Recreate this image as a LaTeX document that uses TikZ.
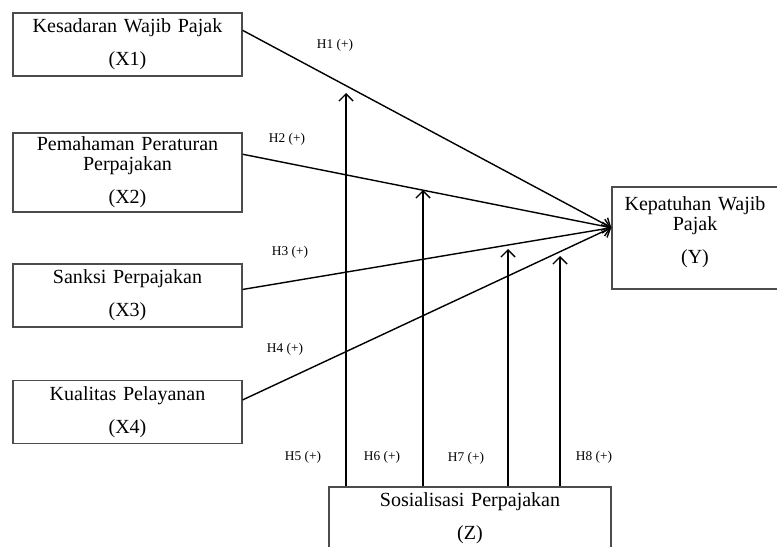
\documentclass[tikz,border=0pt]{standalone}
\usepackage{fontspec}
\setmainfont{Liberation Serif}
\usetikzlibrary{arrows.meta}

\tikzset{
    var/.style={draw=black!70, line width=0.8pt, inner sep=0pt, align=center,
        font=\fontsize{11.4}{11.4}\selectfont},
    hyp/.style={font=\fontsize{7.6}{9}\selectfont},
    link/.style={line width=0.8pt, -{Straight Barb[length=4pt,width=8pt]}}
}

\begin{document}
\begin{tikzpicture}[x=0.02cm, y=-0.02cm]
    \useasboundingbox (0,0) rectangle (777,547);
    \clip (0,0) rectangle (777,547);

    \node[var, text width=4.58cm, minimum height=1.26cm] (1) at (127.5,44.5) {Kesadaran Wajib Pajak\\[7.4pt](X1)};
    \node[var, text width=4.58cm, minimum height=1.58cm] (2) at (127.5,172.5) {Pemahaman Peraturan\\Perpajakan\\[7.4pt](X2)};
    \node[var, text width=4.58cm, minimum height=1.26cm] (3) at (127.5,295.5) {Sanksi Perpajakan\\[7.4pt](X3)};
    \node[var, text width=4.58cm, minimum height=1.26cm] (4) at (127.5,412) {Kualitas Pelayanan\\[7.4pt](X4)};
    \node[var, text width=3.32cm, minimum height=2.04cm] (5) at (695,238) {Kepatuhan Wajib\\Pajak\\[7.4pt](Y)\\[-2.4pt]\mbox{}};
    \node[var, text width=5.64cm, minimum height=1.26cm] (6) at (470,518.5) {Sosialisasi Perpajakan\\[7.4pt](Z)};

    \node[hyp] (7) at (335,45) {H1 (+)};
    \node[hyp] (8) at (287,139) {H2 (+)};
    \node[hyp] (9) at (290,252) {H3 (+)};
    \node[hyp] (10) at (285,349) {H4 (+)};
    \node[hyp] (11) at (303,457) {H5 (+)};
    \node[hyp] (12) at (382,457) {H6 (+)};
    \node[hyp] (13) at (466,458) {H7 (+)};
    \node[hyp] (14) at (594,457) {H8 (+)};

    \coordinate (15) at (346,93);
    \coordinate (16) at (423,190);
    \coordinate (17) at (508,249);
    \coordinate (18) at (560,256);

    \draw[link] (1.7) -- (5.173);
    \draw[link] (2.9) -- (5.173);
    \draw[link] (3.3) -- (5.173);
    \draw[link] (4.6) -- (5.173);

    \draw[link] (15 |- 6.north) -- (15);
    \draw[link] (16 |- 6.north) -- (16);
    \draw[link] (17 |- 6.north) -- (17);
    \draw[link] (18 |- 6.north) -- (18);
\end{tikzpicture}
\end{document}
